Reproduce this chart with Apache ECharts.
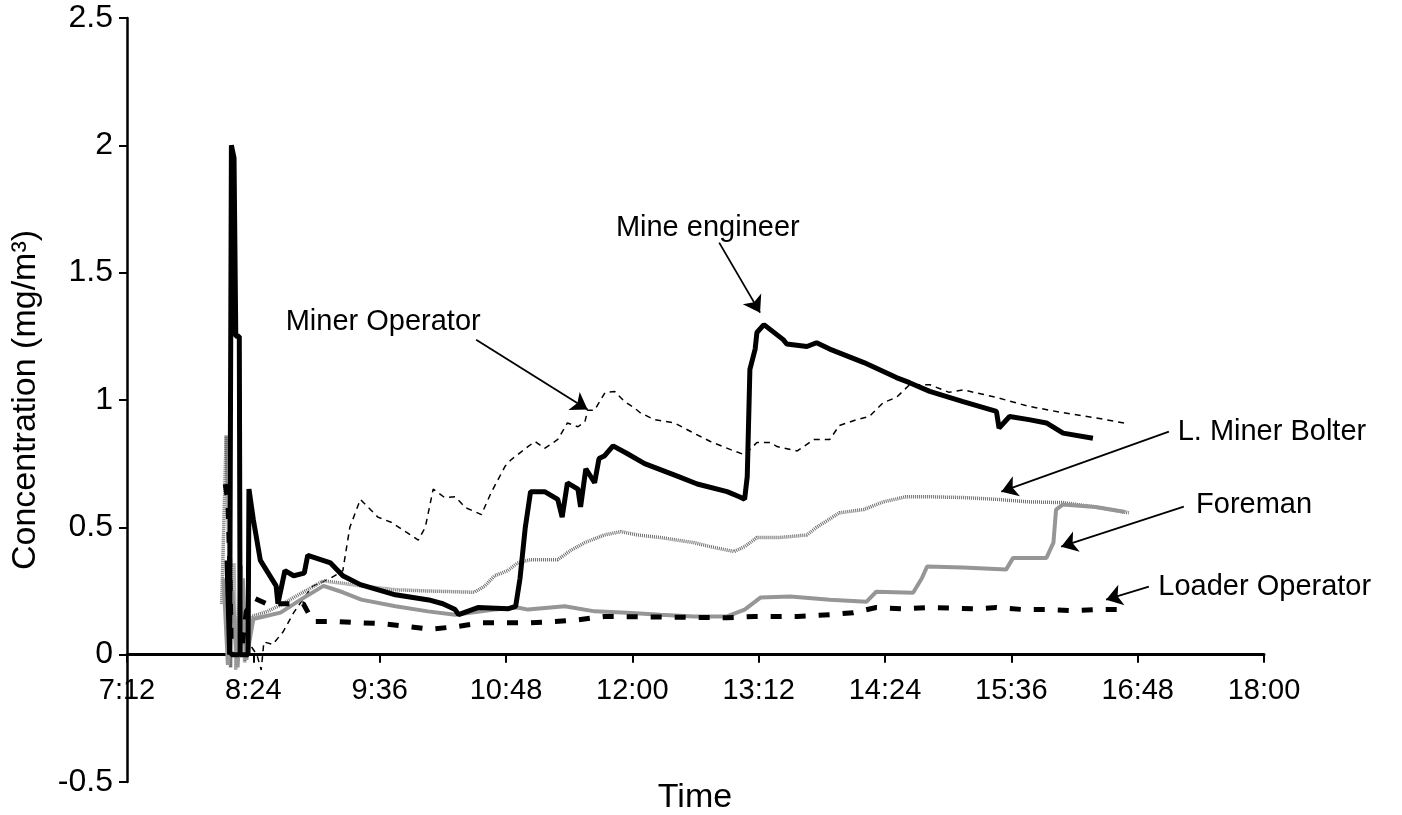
<!DOCTYPE html>
<html>
<head>
<meta charset="utf-8">
<title>Concentration over time</title>
<script src="https://cdn.jsdelivr.net/npm/echarts@6/dist/echarts.min.js"></script>
<style>
html, body { margin: 0; padding: 0; background: #fff; }
#chart { width: 1402px; height: 815px; }
</style>
</head>
<body>
<div id="chart"></div>
<script>
// time is in minutes after midnight, values in mg/m3
var xTicks = [432, 504, 576, 648, 720, 792, 864, 936, 1008, 1080];

var mineEngineer = [
    [489, 0.37], [490, 0.37], [490.5, 0.0], [491.5, 2.0], [493, 1.95], [494, 1.25], [496, 1.25],
    [496.5, 0.0], [501, 0.0], [501.5, 0.65], [504, 0.53], [508, 0.37], [517, 0.27], [518, 0.2],
    [522, 0.33], [527, 0.31], [533, 0.32], [535, 0.39], [548, 0.36], [555, 0.31], [565, 0.275],
    [585, 0.235], [604, 0.215], [612, 0.2], [619, 0.177], [621, 0.157], [632, 0.185], [649, 0.18],
    [653.5, 0.19], [656, 0.3], [659, 0.5], [662, 0.64], [670, 0.64], [677.5, 0.61], [680, 0.54],
    [683, 0.675], [689, 0.65], [690.5, 0.58], [693.5, 0.73], [698.5, 0.675], [701, 0.77], [704, 0.78],
    [709, 0.82], [717, 0.79], [727, 0.75], [746, 0.70], [757, 0.67], [774, 0.64], [781, 0.62],
    [784, 0.61], [785.5, 0.70], [787, 1.12], [790, 1.2], [791, 1.265], [795, 1.296], [806, 1.237],
    [808, 1.22], [819.5, 1.21], [825, 1.225], [832.5, 1.2], [852, 1.147], [870.5, 1.088], [878, 1.068],
    [889.5, 1.034], [908.5, 0.994], [927.5, 0.955], [929, 0.89], [935, 0.935], [946, 0.923],
    [956, 0.91], [965.5, 0.87], [982.5, 0.85]
];

var minerOperator = [
    [503, 0.03], [506, 0.0], [508.5, -0.06], [510, 0.05], [515, 0.04], [521, 0.09], [527, 0.165],
    [532.5, 0.22], [538, 0.27], [548, 0.3], [555, 0.33], [559, 0.5], [565, 0.61], [575, 0.54],
    [582.5, 0.52], [598, 0.45], [602, 0.5], [606.5, 0.65], [613, 0.617], [619, 0.62], [625, 0.577],
    [634, 0.55], [639.5, 0.636], [647.5, 0.74], [651, 0.766], [660.5, 0.817], [664.5, 0.837],
    [670, 0.81], [677.5, 0.845], [683, 0.91], [689, 0.895], [693, 0.915], [694.5, 0.96], [698.5, 0.96],
    [704.5, 1.03], [710, 1.033], [715.5, 0.994], [721, 0.97], [724.5, 0.95], [732.5, 0.923],
    [744, 0.91], [755, 0.87], [764.5, 0.837], [776, 0.805], [784, 0.785], [791, 0.833], [798.5, 0.833],
    [802.5, 0.817], [814, 0.8], [823.5, 0.845], [832.5, 0.845], [838, 0.9], [848, 0.923], [855, 0.935],
    [863, 0.99], [870.5, 1.01], [878, 1.06], [889.5, 1.06], [900.5, 1.03], [908.5, 1.04],
    [927.5, 1.01], [946, 0.975], [965.5, 0.95], [984, 0.93], [1002.5, 0.907]
];

var minerBolter = [
    [486, 0.2], [488.5, 0.86], [490, 0.4], [491, -0.05], [493, 0.36], [494, -0.06], [497, 0.35],
    [499, -0.03], [503, 0.15], [512, 0.17], [521, 0.2], [531, 0.24], [544, 0.29], [555, 0.28],
    [565.5, 0.27], [585, 0.255], [603.5, 0.25], [630, 0.245], [636, 0.27], [641.5, 0.31], [649, 0.33],
    [654.5, 0.36], [662, 0.373], [677.5, 0.373], [685, 0.41], [693, 0.44], [704, 0.47], [713.5, 0.483],
    [723, 0.47], [736, 0.46], [755, 0.44], [764.5, 0.424], [778, 0.405], [784, 0.424], [791, 0.46],
    [804, 0.46], [819.5, 0.47], [825, 0.5], [838, 0.557], [852, 0.57], [863, 0.6], [876, 0.62],
    [889.5, 0.62], [908.5, 0.617], [927.5, 0.61], [946, 0.6], [965.5, 0.597], [984, 0.58], [1003, 0.557]
];

var foreman = [
    [487, 0.3], [489.5, -0.04], [492, 0.25], [495, -0.05], [498, 0.3], [500, -0.02], [504, 0.14],
    [519.5, 0.165], [531, 0.216], [544, 0.27], [555, 0.245], [565.5, 0.216], [585, 0.19],
    [603.5, 0.17], [619, 0.157], [641.5, 0.177], [654.5, 0.185], [660.5, 0.177], [681.5, 0.19],
    [698.5, 0.17], [717, 0.165], [736, 0.157], [755, 0.15], [774, 0.15], [784, 0.177], [793, 0.224],
    [810, 0.228], [832.5, 0.216], [853.5, 0.208], [859, 0.247], [880, 0.243], [885, 0.3], [888, 0.346],
    [908.5, 0.342], [933, 0.334], [937, 0.38], [956, 0.38], [960, 0.44], [961.5, 0.57], [965.5, 0.59],
    [984, 0.58], [1001, 0.56]
];

var loaderOperator = [
    [488, 0.67], [489.5, 0.6], [490.5, 0.37], [491.5, 0.0], [497, 0.0], [500, 0.17], [505, 0.22],
    [511.5, 0.2], [532.5, 0.2], [538, 0.13], [552.5, 0.13], [565.5, 0.125], [577, 0.122], [592, 0.11],
    [605, 0.1], [619.5, 0.11], [634, 0.125], [647.5, 0.125], [662, 0.125], [676, 0.13], [689, 0.137],
    [704, 0.15], [774, 0.145], [789.5, 0.15], [814, 0.15], [832.5, 0.157], [846, 0.165], [859, 0.185],
    [874.5, 0.18], [889.5, 0.185], [914.5, 0.18], [927.5, 0.185], [943, 0.177], [956, 0.177],
    [971, 0.173], [984, 0.177], [1001, 0.177]
];

// annotation labels: [text, time, value, placement] and arrows: [from, to]
var noteLabels = [
    ['Mine engineer', 763, 1.677, 'inside'],
    ['Miner Operator', 578, 1.308, 'inside'],
    ['L. Miner Bolter', 1030.5, 0.876, 'right'],
    ['Foreman', 1041, 0.589, 'right'],
    ['Loader Operator', 1019.5, 0.267, 'right']
];
var noteArrows = [
    [[769.5, 1.618], [792.8, 1.343]],
    [[631, 1.237], [694.5, 0.963]],
    [[1025.8, 0.876], [930.3, 0.64]],
    [[1034.3, 0.581], [964.4, 0.424]],
    [[1014.4, 0.267], [990, 0.216]]
];

function fmtTime(m) {
    var h = Math.floor(m / 60);
    var mm = Math.round(m - h * 60);
    return h + ':' + (mm < 10 ? '0' + mm : mm);
}

var font = 'Liberation Sans, Arial, sans-serif';
var yMin = -0.5, yMax = 2.5;
var gridTop = 18, gridBottom = 33, chartH = 815;
// move the time axis up so it crosses at zero
var zeroShift = (chartH - gridTop - gridBottom) * (0 - yMin) / (yMax - yMin);

var option = {
    animation: false,
    backgroundColor: '#fff',
    textStyle: { fontFamily: font, color: '#000' },
    grid: { left: 127, right: 138, top: gridTop, bottom: gridBottom },
    graphic: [{
        type: 'text',
        x: 695, y: 798,
        style: { text: 'Time', font: '34px ' + font, fill: '#000', textAlign: 'center', textVerticalAlign: 'middle' }
    }],
    xAxis: {
        type: 'value',
        position: 'bottom',
        offset: -zeroShift,
        min: xTicks[0],
        max: xTicks[xTicks.length - 1],
        interval: 72,
        splitLine: { show: false },
        axisLine: { onZero: false, lineStyle: { color: '#000', width: 3 } },
        axisTick: { length: 8, lineStyle: { color: '#000', width: 2 } },
        axisLabel: { fontSize: 29, color: '#000', margin: 22, formatter: fmtTime, fontFamily: font }
    },
    yAxis: {
        type: 'value',
        min: yMin,
        max: yMax,
        interval: 0.5,
        name: 'Concentration (mg/m³)',
        nameLocation: 'middle',
        nameGap: 84,
        nameRotate: 90,
        nameTextStyle: { fontSize: 34, color: '#000', fontFamily: font },
        splitLine: { show: false },
        axisLine: { lineStyle: { color: '#000', width: 2.5 } },
        axisTick: { length: 8, lineStyle: { color: '#000', width: 2 } },
        axisLabel: { fontSize: 32, color: '#000', margin: 14, fontFamily: font }
    },
    series: [
        {
            name: 'Miner Operator',
            type: 'line',
            symbol: 'none',
            data: minerOperator,
            lineStyle: { color: '#000', width: 1.5, type: [6, 5] }
        },
        {
            name: 'L. Miner Bolter',
            type: 'line',
            symbol: 'none',
            data: minerBolter,
            lineStyle: { color: '#6e6e6e', width: 3.5, type: [1, 1] }
        },
        {
            name: 'Foreman',
            type: 'line',
            symbol: 'none',
            data: foreman,
            lineStyle: { color: '#969696', width: 4 }
        },
        {
            name: 'Loader Operator',
            type: 'line',
            symbol: 'none',
            data: loaderOperator,
            lineStyle: { color: '#000', width: 5, type: [11, 13] }
        },
        {
            name: 'Mine engineer',
            type: 'line',
            symbol: 'none',
            data: mineEngineer,
            lineStyle: { color: '#000', width: 5 }
        },
        {
            name: 'notes',
            type: 'line',
            data: [],
            itemStyle: { color: '#000' },
            markLine: {
                silent: true,
                symbol: ['none', 'arrow'],
                symbolSize: 16,
                label: { show: false },
                itemStyle: { color: '#000' },
                lineStyle: { color: '#000', width: 1.8, type: 'solid' },
                data: noteArrows.map(function (a) {
                    return [{ coord: a[0] }, { coord: a[1] }];
                })
            },
            markPoint: {
                silent: true,
                symbol: 'circle',
                symbolSize: 1,
                itemStyle: { color: 'rgba(0,0,0,0)' },
                data: noteLabels.map(function (n) {
                    return {
                        coord: [n[1], n[2]],
                        label: {
                            show: true,
                            formatter: n[0],
                            position: n[3],
                            distance: 0,
                            fontSize: 29,
                            color: '#000',
                            fontFamily: font
                        }
                    };
                })
            }
        }
    ]
};

var myChart = echarts.init(document.getElementById('chart'));
myChart.setOption(option);
</script>
</body>
</html>
